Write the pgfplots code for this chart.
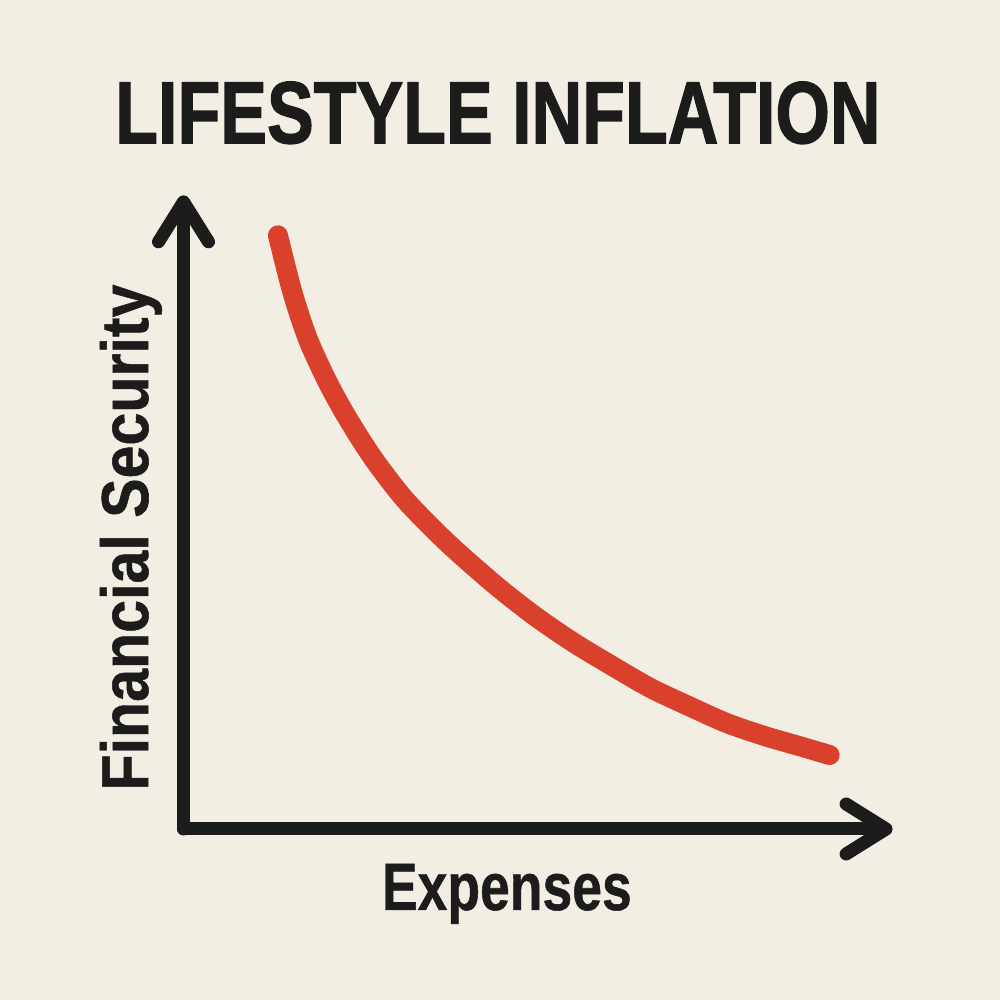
\documentclass[border=0pt]{standalone}
\usepackage{pgfplots}
\pgfplotsset{compat=1.18}
\usepackage{fontspec}
\setmainfont{Liberation Sans}
\newfontfamily\heavyfont[BoldFeatures={FakeBold=1.6}]{Liberation Sans}
\newfontfamily\labelfont[BoldFeatures={FakeBold=0.8}]{Liberation Sans}
\usetikzlibrary{arrows.meta}
\definecolor{bg}{HTML}{F3EEE4}
\definecolor{ink}{HTML}{1C1C1C}
\definecolor{curve}{HTML}{D9412D}
\begin{document}
\begin{tikzpicture}
\fill[bg] (-1.835cm,-1.71cm) rectangle (8.165cm,8.29cm);
\begin{axis}[
  x=0.01cm, y=0.01cm,
  xmin=183.5, xmax=893, ymin=171, ymax=805,
  axis lines=left,
  axis line style={ink, line width=0.13cm, line cap=round, line join=round,
    -{Straight Barb[length=0.4cm, width=0.5cm, round]}},
  xtick=\empty, ytick=\empty,
  clip=false,
  title={\scalebox{0.797}[1]{\heavyfont\fontsize{25pt}{30pt}\selectfont\bfseries LIFESTYLE INFLATION}},
  title style={at={(axis description cs:0.4433,1.0825)}, anchor=base, yshift=-6pt, text=ink, inner sep=0pt},
  xlabel={\scalebox{0.797}[1]{\labelfont\fontsize{19.1pt}{23pt}\selectfont\bfseries Expenses}},
  xlabel style={at={(axis description cs:0.456,-0.1278)}, anchor=base, text=ink, inner sep=0pt},
  ylabel={\scalebox{0.89}[1]{\labelfont\fontsize{18.9pt}{23pt}\selectfont\bfseries Financial Security}},
  ylabel style={at={(axis description cs:-0.05,0.46)}, anchor=base, text=ink, inner sep=0pt},
]
\addplot[curve, line width=0.2cm, line cap=round, smooth, no marks] coordinates {
(278,765) (292.5,708) (307.7,662) (326.8,620) (345.9,585) (372.5,543)
(403,503) (433.5,471) (460,446) (498,413) (536.5,383) (574.6,357)
(612.7,334) (650.8,312) (689,294) (727,277) (765,264) (803,253) (830,245)
};
\end{axis}
\pgfresetboundingbox
\path[use as bounding box] (-1.835cm,-1.71cm) rectangle (8.165cm,8.29cm);
\end{tikzpicture}
\end{document}
